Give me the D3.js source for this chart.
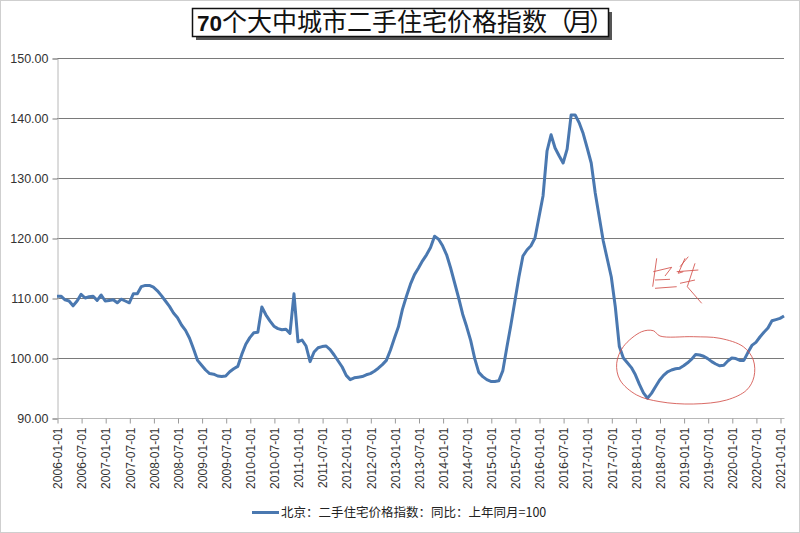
<!DOCTYPE html>
<html><head><meta charset="utf-8">
<script src="https://cdn.jsdelivr.net/npm/d3@7"></script>
<style>body{margin:0;background:#fff}svg{display:block}</style>
</head><body><svg id="c" width="800" height="533"></svg>
<script>
const title = "70个大中城市二手住宅价格指数（月）";
const seriesName = "北京：二手住宅价格指数：同比：上年同月=100";
const startYear = 2006;
// monthly values from 2006-01 to 2021-02
const values = [
110.3,110.3,109.7,109.5,108.7,109.5,110.6,110.0,110.2,110.3,109.6,110.5,
109.5,109.6,109.7,109.2,109.8,109.5,109.2,110.7,110.7,111.9,112.1,112.1,
111.8,111.2,110.4,109.5,108.6,107.5,106.7,105.5,104.6,103.3,101.5,99.6,
98.8,98.0,97.4,97.3,97.0,96.9,97.0,97.7,98.2,98.6,100.6,102.3,
103.4,104.2,104.3,108.5,107.2,106.2,105.3,104.9,104.7,104.8,104.1,110.7,
102.7,103.0,102.0,99.4,101.0,101.7,101.9,102.0,101.4,100.5,99.5,98.5,
97.1,96.4,96.7,96.8,96.9,97.2,97.4,97.8,98.3,98.9,99.6,101.3,
103.3,105.2,108.1,110.3,112.3,113.9,115.0,116.2,117.2,118.4,120.3,119.8,
118.7,117.2,115.0,112.5,110.0,107.3,105.2,102.9,99.9,97.6,96.9,96.4,
96.1,96.1,96.2,97.9,101.8,105.5,109.5,113.5,117.0,118.0,118.7,120.0,
123.5,127.0,134.5,137.2,135.0,133.7,132.5,134.8,140.5,140.5,139.2,137.4,
135.0,132.5,127.5,123.5,119.5,116.5,113.5,108.5,101.9,100.0,99.2,98.4,
97.2,95.6,94.2,93.3,94.1,95.2,96.3,97.1,97.7,98.0,98.2,98.3,
98.7,99.2,99.8,100.6,100.5,100.3,99.9,99.4,99.0,98.7,98.8,99.5,
100.0,99.9,99.6,99.6,100.9,102.1,102.6,103.5,104.3,105.0,106.2,106.4,
106.6,107.0
];
const yTicks = [90,100,110,120,130,140,150];
const xTickMonths = d3.range(0, 181, 6);
const xTickLabels = xTickMonths.map(m => {
  const y = startYear + Math.floor(m/12), mo = m%12+1;
  return `${y}-${String(mo).padStart(2,"0")}-01`;
});

const svg = d3.select("#c");
svg.append("rect").attr("x",0.5).attr("y",0.5).attr("width",799).attr("height",532)
  .attr("fill","#fff").attr("stroke","#cfcfcf");

const x = d3.scaleLinear().domain([0,180]).range([57,780]);
const y = d3.scaleLinear().domain([90,150]).range([418,58]);
const xRight = 784;

// gridlines
svg.append("g").selectAll("line").data(yTicks.filter(v=>v>90)).join("line")
  .attr("x1",57).attr("x2",xRight).attr("y1",d=>Math.round(y(d))+0.5).attr("y2",d=>Math.round(y(d))+0.5)
  .attr("stroke","#7a7a7a").attr("stroke-width",1);

// y axis
const yAxis = svg.append("g").attr("transform","translate(57.5,0.5)")
  .call(d3.axisLeft(y).tickValues(yTicks).tickSize(5).tickFormat(d=>d.toFixed(2)));
yAxis.select(".domain").attr("stroke","#b8b8b8");
yAxis.selectAll(".tick line").attr("stroke","#7a7a7a");
yAxis.selectAll("text").attr("font-family","Liberation Sans, Arial, sans-serif")
  .attr("font-size",12.5).attr("fill","#333").attr("x",-9);

// x axis
const xAxis = svg.append("g").attr("transform","translate(0.5,418.5)")
  .call(d3.axisBottom(x).tickValues(xTickMonths).tickSize(5).tickSizeOuter(0).tickFormat((d,i)=>xTickLabels[i]));
xAxis.select(".domain").attr("d",`M57,0H${xRight}`).attr("stroke","#b8b8b8");
xAxis.selectAll(".tick line").attr("stroke","#9a9a9a");
xAxis.selectAll("text")
  .attr("font-family","Liberation Sans, Arial, sans-serif").attr("font-size",12).attr("fill","#333")
  .attr("transform","rotate(-90)").attr("text-anchor","end")
  .attr("x",-9).attr("y",0).attr("dy","0.35em");

// data line
const line = d3.line().x((d,i)=>x(i)).y(d=>y(d)).curve(d3.curveLinear);
svg.append("path").datum(values).attr("d",line)
  .attr("fill","none").attr("stroke","#4a78b0").attr("stroke-width",3).attr("stroke-linejoin","round");

// hand-drawn red annotation
const red = "#d2504a";
const ellipsePts = [[641.7,331.7],[653.3,330.7],[660,336],[693.3,336.7],[720,338.3],[743.3,346.7],[753.3,360],[754,376.7],[746.7,390],[726.7,400],[693.3,404],[660,401.7],[636.7,395],[620,380],[616.7,363.3],[623.3,346.7]];
svg.append("path").attr("d",d3.line().curve(d3.curveCatmullRomClosed)(ellipsePts))
  .attr("fill","none").attr("stroke",red).attr("stroke-width",1).attr("opacity",0.85);
const strokes = [
 [[656.7,258.3],[652.7,286.7]],
 [[653.3,271.7],[671.7,267.3],[665,276]],
 [[655,280],[670,279.3]],
 [[655,288.3],[676.7,286.7]],
 [[685,258.3],[678.3,273.3],[683.3,271.7]],
 [[676.7,271.7],[698.3,270]],
 [[695,263.3],[687.3,286.7],[701.7,303.3]],
 [[680,283.3],[695,280]],
 [[688.3,256.7],[680,266.7]]
];
svg.append("g").selectAll("path").data(strokes).join("path")
  .attr("d",d=>d3.line()(d)).attr("fill","none").attr("stroke",red).attr("stroke-width",1).attr("opacity",0.85);

// title box
svg.append("rect").attr("x",196).attr("y",12).attr("width",416).attr("height",28).attr("fill","#555");
svg.append("rect").attr("x",192.5).attr("y",8.5).attr("width",416).attr("height",28)
  .attr("fill","#fff").attr("stroke","#111").attr("stroke-width",1.5);
const tt = svg.append("text").attr("x",197).attr("y",31)
  .attr("font-family","Noto Sans CJK SC, sans-serif").attr("font-size",25).attr("fill","#111");
tt.append("tspan").attr("font-family","Liberation Sans, Arial, sans-serif").attr("font-weight","bold").attr("font-size",22.5).text(title.slice(0,2));
tt.append("tspan").attr("x",222).text(title.slice(2, title.length-3));
tt.append("tspan").attr("x",547).attr("letter-spacing",-4).text(title.slice(title.length-3));

// legend
svg.append("line").attr("x1",252).attr("x2",279).attr("y1",512.5).attr("y2",512.5)
  .attr("stroke","#4a78b0").attr("stroke-width",3);
svg.append("text").attr("x",281).attr("y",517)
  .attr("font-family","Noto Sans CJK SC, sans-serif").attr("font-size",12.5).attr("fill","#222")
  .text(seriesName);
</script></body></html>
